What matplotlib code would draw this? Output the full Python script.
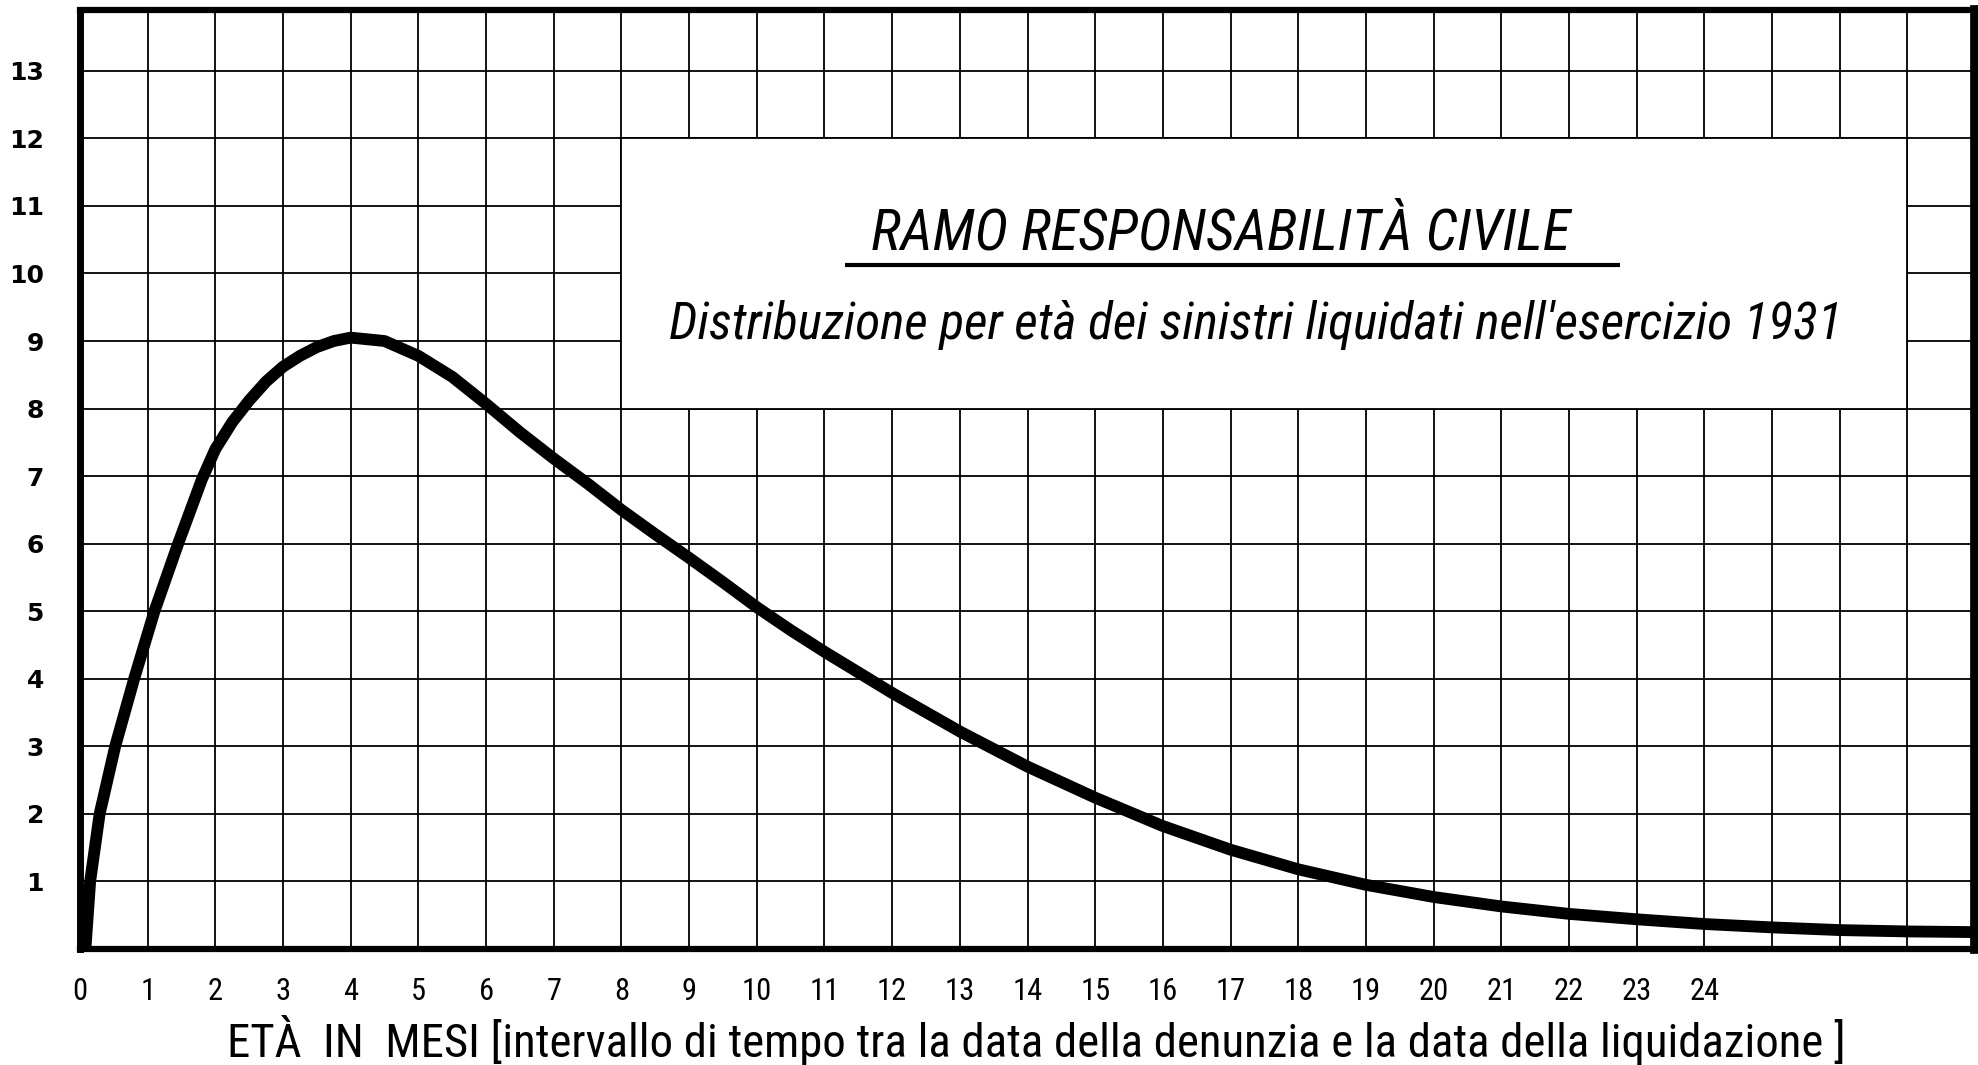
import matplotlib
matplotlib.use("Agg")
import matplotlib.pyplot as plt
from matplotlib import font_manager
from matplotlib.patches import Rectangle

# ---------------- data ----------------
age_months = [0.08, 0.15, 0.29, 0.52, 0.8, 1.1, 1.45, 1.8, 2.0, 2.25, 2.5, 2.75, 3.0,
              3.25, 3.5, 3.75, 4.0, 4.5, 5.0, 5.5, 6.0, 6.5, 7.0, 7.5, 8.0, 8.5, 9.0,
              9.5, 10.0, 10.5, 11, 12, 13, 14, 15, 16, 17, 18, 19, 20, 21, 22, 23,
              24, 25, 26, 27, 28]
claims = [0.0, 1.0, 2.0, 3.0, 4.0, 5.0, 6.0, 6.95, 7.4, 7.8, 8.12, 8.4, 8.62,
          8.78, 8.91, 9.0, 9.05, 9.0, 8.78, 8.47, 8.07, 7.65, 7.26, 6.89, 6.5, 6.14, 5.79,
          5.43, 5.06, 4.72, 4.4, 3.79, 3.22, 2.7, 2.24, 1.82, 1.47, 1.18, 0.95, 0.77,
          0.63, 0.52, 0.44, 0.37, 0.32, 0.28, 0.26, 0.25]
x_tick_labels = [str(i) for i in range(0, 25)]
y_tick_labels = [str(i) for i in range(1, 14)]
title = "RAMO RESPONSABILITÀ CIVILE"
subtitle = "Distribuzione per età dei sinistri liquidati nell'esercizio 1931"
xlabel = "ETÀ  IN  MESI [intervallo di tempo tra la data della denunzia e la data della liquidazione ]"

# ---------------- fonts ----------------
available = {f.name for f in font_manager.fontManager.ttflist}
narrow = "DejaVu Sans"
for cand in ["Liberation Sans Narrow", "Roboto Condensed", "Open Sans Condensed", "Noto Sans"]:
    if cand in available:
        narrow = cand
        break

fig = plt.figure(figsize=(19.78, 10.65), dpi=100)
ax = fig.add_axes([80 / 1978, 1 - 949 / 1065, (1975 - 80) / 1978, (949 - 10) / 1065])
ax.set_xlim(0, 28)
ax.set_ylim(0, 13.9)

ax.grid(True, color="black", linewidth=1.3, zorder=0.5)
ax.set_axisbelow(True)
ax.set_yticks(range(1, 14))
ax.set_yticklabels(y_tick_labels, fontfamily="DejaVu Sans", fontweight="bold", fontsize=18)
ax.tick_params(axis="y", length=0, pad=26)
ax.set_xticks(range(0, 28))
ax.set_xticklabels(x_tick_labels + [""] * 3, fontfamily=narrow, fontsize=22)
ax.tick_params(axis="x", length=0, pad=20)

for side, lw in [("left", 5), ("bottom", 4.5), ("top", 4.5), ("right", 7)]:
    ax.spines[side].set_linewidth(lw)
    ax.spines[side].set_color("black")

# white title box over the grid
ax.add_patch(Rectangle((8, 8), 19, 4, facecolor="white", edgecolor="black",
                       linewidth=1.3, zorder=1.5))

ax.plot(age_months, claims, color="black", linewidth=8.5, solid_joinstyle="round",
        solid_capstyle="butt", zorder=3)

t1 = ax.text(16.86, 10.58, title, ha="center", va="center", fontfamily=narrow,
             fontstyle="italic", fontsize=36, zorder=4)
ax.plot([11.3, 22.75], [10.12, 10.12], color="black", linewidth=3, zorder=4,
        solid_capstyle="butt")
t2 = ax.text(17.37, 9.23, subtitle, ha="center", va="center", fontfamily=narrow,
             fontstyle="italic", fontsize=32, zorder=4)
t3 = fig.text(1036 / 1978, 1 - 1041 / 1065, xlabel, ha="center", va="center",
              fontfamily=narrow, fontsize=32)

fig.canvas.draw()
renderer = fig.canvas.get_renderer()
for t, target in [(t1, 700), (t2, 1173), (t3, 1624)]:
    w = t.get_window_extent(renderer).width
    t.set_fontsize(t.get_fontsize() * target / w)

fig.savefig("out.png", dpi=100, facecolor="white")
